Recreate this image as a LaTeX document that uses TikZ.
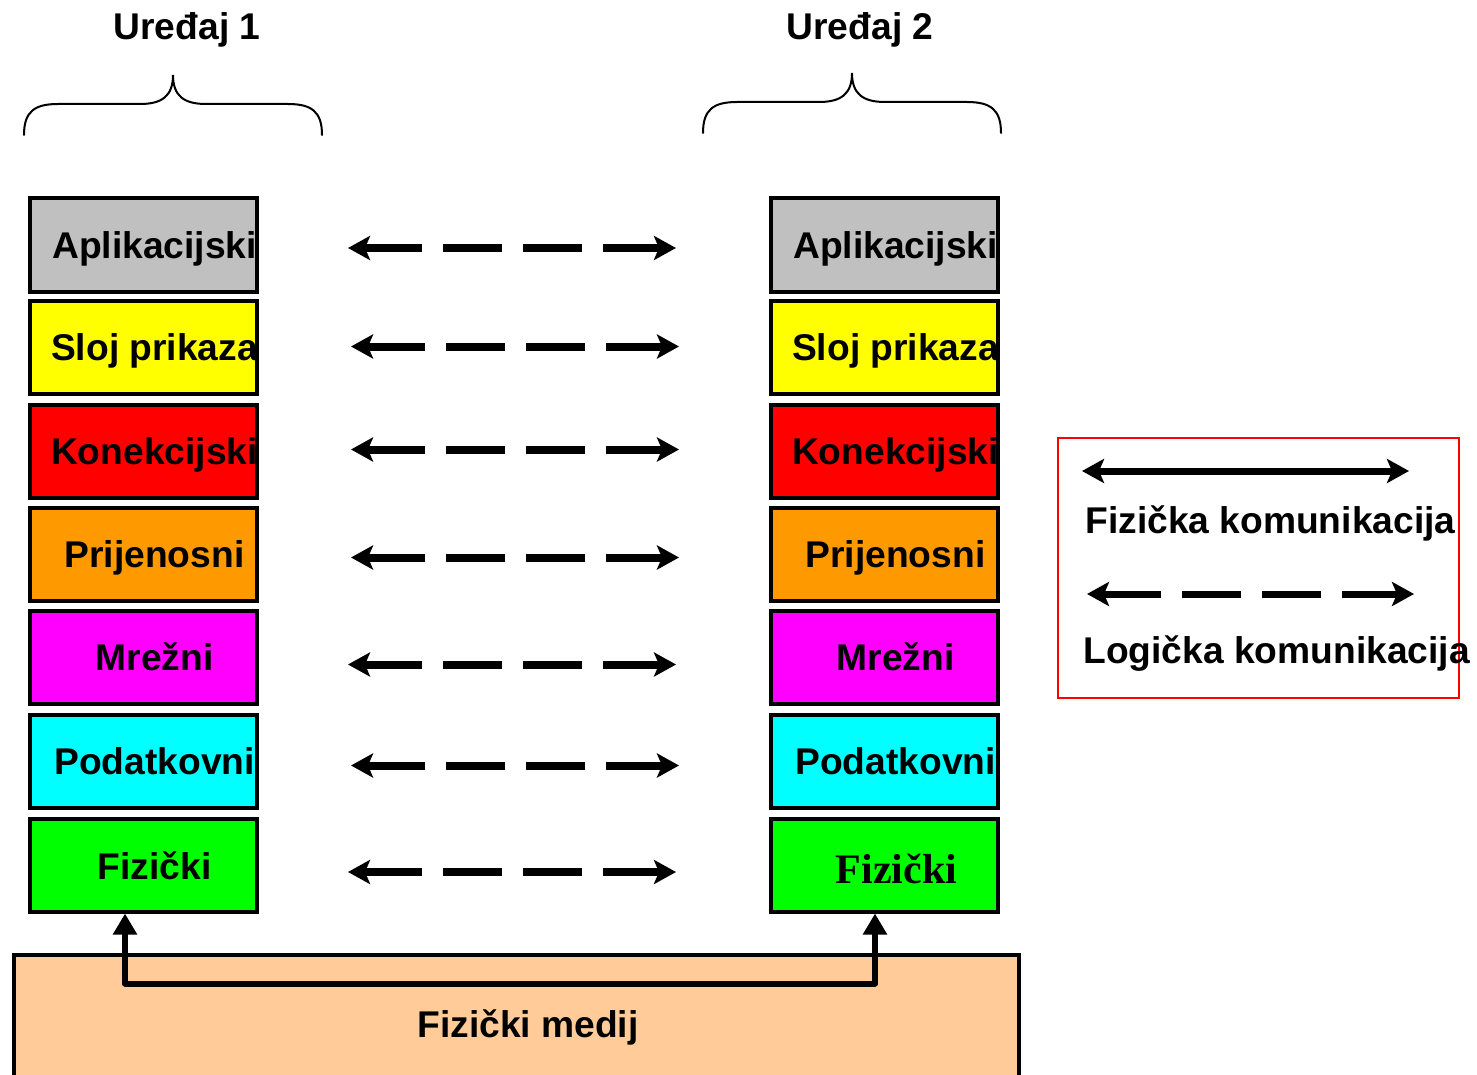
\documentclass[tikz,border=0pt]{standalone}
\usepackage{fontspec}
\setmainfont{Liberation Sans}
\newfontfamily\serifbold{Liberation Serif}
\usetikzlibrary{arrows.meta}
\definecolor{cgray}{HTML}{C0C0C0}
\definecolor{cyel}{HTML}{FFFF00}
\definecolor{cred}{HTML}{FF0000}
\definecolor{corange}{HTML}{FF9900}
\definecolor{cmag}{HTML}{FF00FF}
\definecolor{ccyan}{HTML}{00FFFF}
\definecolor{cgreen}{HTML}{00FF00}
\definecolor{cpeach}{HTML}{FFCC99}
\begin{document}
\begin{tikzpicture}[x=0.5pt,y=-0.5pt,
  layer/.style={draw=black, line width=2pt, minimum width=113.5pt, minimum height=46.5pt, inner sep=0pt},
  ltext/.style={font=\bfseries\fontsize{18.6pt}{22pt}\selectfont, anchor=base, inner sep=0pt},
  logic/.style={line width=4pt, {Stealth[length=11pt,width=12pt,inset=2.5pt]}-{Stealth[length=11pt,width=12pt,inset=2.5pt]},
     dash pattern=on 29pt off 10.5pt on 29.5pt off 10.5pt on 29.5pt off 10.5pt on 80pt},
  legdash/.style={line width=3.5pt, {Stealth[length=11pt,width=12pt,inset=2.5pt]}-{Stealth[length=11pt,width=12pt,inset=2.5pt]},
     dash pattern=on 29pt off 10.5pt on 29.5pt off 10.5pt on 29.5pt off 10.5pt on 80pt},
  legsolid/.style={line width=3.5pt, {Stealth[length=11pt,width=12pt,inset=2.5pt]}-{Stealth[length=11pt,width=12pt,inset=2.5pt]}},
  phys/.style={line width=3pt, line join=round, {Triangle[length=10.5pt,width=11.5pt]}-{Triangle[length=10.5pt,width=11.5pt]}},
  brace/.style={line width=1pt, line cap=round}
]
\useasboundingbox (0,0) rectangle (1477,1075);

% titles and braces
\node[ltext] (t1) at (187,40) {Uređaj 1};
\node[ltext] (t2) at (860,40) {Uređaj 2};
\draw[brace] (24,135) .. controls (24,112) and (34,104) .. (58,104) -- (140,104)
  .. controls (162,104) and (173,96) .. (173,75)
  .. controls (173,96) and (184,104) .. (206,104) -- (288,104)
  .. controls (312,104) and (322,112) .. (322,135);
\begin{scope}[shift={(679,-2)}]
\draw[brace] (24,135) .. controls (24,112) and (34,104) .. (58,104) -- (140,104)
  .. controls (162,104) and (173,96) .. (173,75)
  .. controls (173,96) and (184,104) .. (206,104) -- (288,104)
  .. controls (312,104) and (322,112) .. (322,135);
\end{scope}

% physical medium
\node[draw=black, line width=2pt, fill=cpeach, minimum width=502.5pt, minimum height=67pt, inner sep=0pt] (med) at (516.5,1022) {};
\node[ltext] (medt) at (528,1037) {Fizički medij};

% left stack
\node[layer, fill=cgray]   (L1) at (143.5,245) {};
\node[layer, fill=cyel]    (L2) at (143.5,347.5) {};
\node[layer, fill=cred]    (L3) at (143.5,451.5) {};
\node[layer, fill=corange] (L4) at (143.5,554.5) {};
\node[layer, fill=cmag]    (L5) at (143.5,657.5) {};
\node[layer, fill=ccyan]   (L6) at (143.5,761.5) {};
\node[layer, fill=cgreen]  (L7) at (143.5,865) {};
% right stack
\node[layer, fill=cgray]   (R1) at (884.5,245) {};
\node[layer, fill=cyel]    (R2) at (884.5,347.5) {};
\node[layer, fill=cred]    (R3) at (884.5,451.5) {};
\node[layer, fill=corange] (R4) at (884.5,554.5) {};
\node[layer, fill=cmag]    (R5) at (884.5,657.5) {};
\node[layer, fill=ccyan]   (R6) at (884.5,761.5) {};
\node[layer, fill=cgreen]  (R7) at (884.5,865) {};

% labels
\foreach \s in {L,R}{
  \node[ltext] (\s t1) at ([shift={(11,13)}]\s1.center) {Aplikacijski};
  \node[ltext] (\s t2) at ([shift={(11,13)}]\s2.center) {Sloj prikaza};
  \node[ltext] (\s t3) at ([shift={(11,13)}]\s3.center) {Konekcijski};
  \node[ltext] (\s t4) at ([shift={(11,13)}]\s4.center) {Prijenosni};
  \node[ltext] (\s t5) at ([shift={(11,13)}]\s5.center) {Mrežni};
  \node[ltext] (\s t6) at ([shift={(11,13)}]\s6.center) {Podatkovni};
}
\node[ltext] (Lt7) at ([shift={(11,14)}]L7.center) {Fizički};
\node[ltext, font=\serifbold\bfseries\fontsize{21pt}{24pt}\selectfont] (Rt7) at ([shift={(12,18)}]R7.center) {Fizički};

% logical arrows
\draw[logic] ([shift={(89,3)}]L1.east) -- ([shift={(-93,3)}]R1.west);
\draw[logic] ([shift={(92,-1)}]L2.east) -- ([shift={(-90,-1)}]R2.west);
\draw[logic] ([shift={(92,-2)}]L3.east) -- ([shift={(-90,-2)}]R3.west);
\draw[logic] ([shift={(92,3)}]L4.east) -- ([shift={(-90,3)}]R4.west);
\draw[logic] ([shift={(89,7)}]L5.east) -- ([shift={(-93,7)}]R5.west);
\draw[logic] ([shift={(92,4)}]L6.east) -- ([shift={(-90,4)}]R6.west);
\draw[logic] ([shift={(89,7)}]L7.east) -- ([shift={(-93,7)}]R7.west);

% physical connection
\draw[phys] ([xshift=-9.25pt]L7.south) -- ++(0,70) -| ([xshift=-4.75pt]R7.south);

% legend
\node[draw=red, line width=1pt, minimum width=200.5pt, minimum height=130pt, inner sep=0pt] (leg) at (1258.5,568) {};
\coordinate (ls1) at (1082,471);
\coordinate (ls2) at (1409,471);
\coordinate (ld1) at (1087,594);
\coordinate (ld2) at (1414,594);
\draw[legsolid] (ls1) -- (ls2);
\draw[legdash] (ld1) -- (ld2);
\node[ltext, anchor=base west] (lt1) at (1085,533) {Fizička komunikacija};
\node[ltext, anchor=base west] (lt2) at (1083,663) {Logička komunikacija};
\end{tikzpicture}
\end{document}
